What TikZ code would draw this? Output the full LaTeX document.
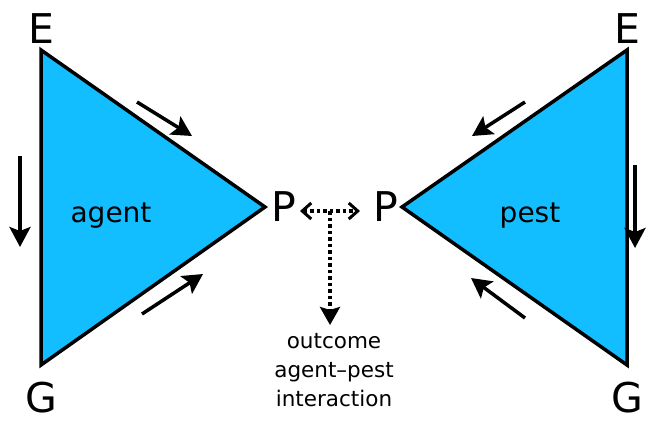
\documentclass[tikz,border=0pt]{standalone}
\usepackage{fontspec}
\setmainfont{DejaVu Sans}
\usetikzlibrary{arrows.meta}
\definecolor{tri}{RGB}{18,190,255}
\begin{document}
\begin{tikzpicture}[x=1pt,y=-1pt,
  trishape/.style={fill=tri,draw=black,line width=3.5pt,line join=miter},
  bigl/.style={font=\fontsize{41}{44}\selectfont,inner sep=0pt,anchor=base},
  inlbl/.style={font=\fontsize{28}{32}\selectfont,inner sep=0pt,anchor=base},
  flow/.style={line width=3.5pt,-{Stealth[length=20pt,width=21pt,inset=4pt]}},
  dotl/.style={line width=3.5pt,dash pattern=on 3.5pt off 3pt},
  smalltxt/.style={font=\fontsize{21.5}{29}\selectfont,align=center,inner sep=0pt}]
\useasboundingbox (0,0) rectangle (647,421);
% left triangle
\coordinate (LE) at (41,50);
\coordinate (LG) at (41,365);
\coordinate (LP) at (265,207);
\draw[trishape] (LE) -- (LP) -- (LG) -- cycle;
% right triangle
\coordinate (RE) at (627,50);
\coordinate (RG) at (627,365);
\coordinate (RP) at (402,207);
\draw[trishape] (RE) -- (RP) -- (RG) -- cycle;
% labels
\node[bigl] (tLE) at (41,43) {E};
\node[bigl] (tLG) at (41,412) {G};
\node[bigl] (tLP) at (284,221) {P};
\node[bigl] (tRP) at (386,221) {P};
\node[bigl] (tRE) at (627,43) {E};
\node[bigl] (tRG) at (627,412) {G};
\node[inlbl] (agent) at (111,222) {agent};
\node[inlbl] (pest) at (530,222) {pest};
% flow arrows
\coordinate (a1s) at (137,102); \coordinate (a1e) at (192,136);
\coordinate (a2s) at (20,156); \coordinate (a2e) at (20,247);
\coordinate (a3s) at (142,314); \coordinate (a3e) at (203,274);
\coordinate (b1s) at (525,102); \coordinate (b1e) at (472,136);
\coordinate (b2s) at (635,165); \coordinate (b2e) at (635,248);
\coordinate (b3s) at (525,318); \coordinate (b3e) at (471,278);
\draw[flow] (a1s) -- (a1e);
\draw[flow] (a2s) -- (a2e);
\draw[flow] (a3s) -- (a3e);
\draw[flow] (b1s) -- (b1e);
\draw[flow] (b2s) -- (b2e);
\draw[flow] (b3s) -- (b3e);
% interaction
\coordinate (hL) at (300,211);
\coordinate (hR) at (360,211);
\coordinate (hM) at (330,211);
\node[smalltxt,anchor=north] (out) at (334,333) {outcome\\agent–pest\\interaction};
\draw[dotl,{Straight Barb[length=9pt,width=16pt,line width=3pt]}-{Straight Barb[length=9pt,width=16pt,line width=3pt]}] (hL) -- (hR);
\draw[dotl,-{Stealth[length=18pt,width=20pt,inset=3pt]}] (hM) -- (330,325);
\end{tikzpicture}
\end{document}
